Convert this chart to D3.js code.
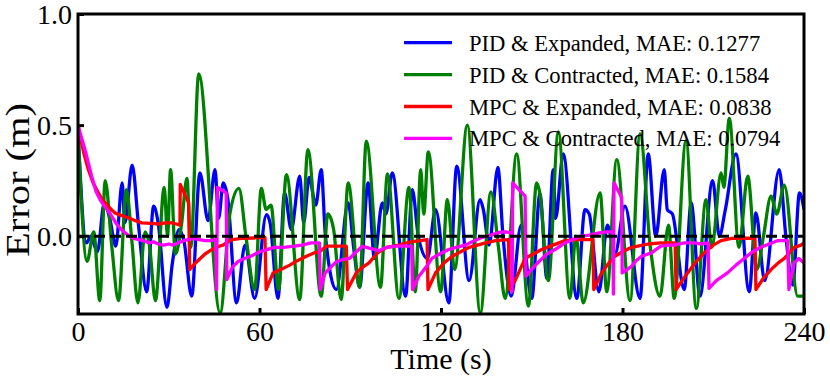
<!DOCTYPE html>
<html><head><meta charset="utf-8">
<script src="https://cdn.jsdelivr.net/npm/d3@7"></script>
<style>html,body{margin:0;padding:0;background:#fff;} svg{display:block;}</style>
</head><body><svg id="c" width="830" height="383"></svg>
<script>
// ---- data ----
const xTicks = [0, 60, 120, 180, 240];
const yTicks = [0.0, 0.5, 1.0];
const seriesNames = [
  "PID & Expanded, MAE: 0.1277",
  "PID & Contracted, MAE: 0.1584",
  "MPC & Expanded, MAE: 0.0838",
  "MPC & Contracted, MAE: 0.0794"
];
const seriesColors = ["#0000ff", "#008000", "#ff0000", "#ff00ff"];

// [time (s), error (m)]
const pidExpanded = [
[0,0.47],[2.8,-0.03],[4.2,0.0],[6.4,-0.07],[8.7,0.15],[10.5,0.08],[12.5,-0.045],[14.6,0.24],[15.5,0.06],[17.9,0.32],[20,0.05],
[22.7,-0.25],[25,0.135],[26.5,0.06],[29.4,-0.32],[31.2,-0.12],[33.4,0.03],[35,-0.02],[37.6,-0.27],[40.3,0.285],[43,0.07],
[45.3,0.3],[46.5,0.08],[48,0.24],[49.5,0.17],[52.4,-0.3],[55.2,-0.04],[58.4,-0.28],[62.3,0.097],[63.5,0.06],[66.1,-0.28],
[68.3,0.195],[70.5,0.03],[73.3,0.27],[74.6,0.06],[76.4,0.265],[78.6,0.14],[80.4,0.3],[81.8,0.0],[85.4,-0.24],[89.3,0.15],
[91.2,-0.06],[93.1,-0.23],[95.9,0.24],[98,-0.1],[100.6,0.15],[101.8,0.1],[103.9,0.285],[108.3,-0.27],[110.5,0.21],[112.5,0.0],
[115.5,-0.1],[118.2,0.12],[122.6,-0.3],[125.2,0.315],[129.3,-0.2],[132.9,0.165],[134,0.12],[135.9,-0.04],[138.8,0.31],[140.5,0.0],
[143.2,-0.27],[146.5,0.05],[150,-0.28],[152.7,0.19],[155,-0.19],[157.1,0.3],[157.9,0.08],[160.4,0.37],[164.9,-0.28],[167.6,0.12],
[169,0.1],[172.2,-0.25],[175,0.05],[177.5,-0.08],[180.8,0.135],[185.8,-0.28],[188.5,0.37],[191,0.0],[193.8,0.3],[194.8,0.12],
[196.5,0.1],[200.4,-0.24],[202.7,0.15],[205.6,-0.27],[209.8,0.25],[212,0.0],[214,0.12],[217.5,0.37],[221.9,-0.25],[224.1,0.105],
[227,-0.2],[231.8,0.3],[234,0.0],[236.3,-0.22],[238.5,0.195],[240,0.12]
];
const pidContracted = [
[0,0.47],[3,-0.113],[5.2,0.02],[7.2,-0.29],[9,0.25],[11.2,-0.05],[13.4,-0.29],[16,0.21],[17.8,-0.02],[19.8,-0.3],[22.2,0.02],
[23.6,-0.04],[25.6,-0.29],[28.5,0.22],[29.6,0.0],[30.6,0.3],[32.2,-0.08],[34.2,0.05],[36,0.26],[37.3,-0.05],[39.9,0.73],
[47,-0.345],[50.2,0.1],[53.2,0.215],[55.5,0.0],[58.4,-0.24],[60.6,0.215],[62.2,0.12],[63.8,0.14],[66.3,-0.24],[68.9,0.277],
[73.3,-0.285],[76,0.39],[80.4,-0.27],[82.6,0.1],[84.5,0.03],[87,-0.285],[89.3,0.24],[93.1,-0.23],[95.3,0.428],[100,-0.23],
[102.3,0.28],[106.1,-0.28],[109.4,0.22],[111.5,-0.25],[113.3,0.3],[114.3,0.1],[115.8,0.38],[119.9,-0.25],[122.1,0.165],
[124.5,-0.15],[128.7,0.5],[133,-0.345],[136.5,0.2],[139,-0.05],[141.2,-0.28],[145,0.37],[148.9,-0.315],[151.6,0.24],[152.6,0.2],
[155.5,-0.2],[158.8,0.47],[162.6,-0.28],[164.6,0.0],[167,-0.3],[172.6,0.195],[174.8,-0.25],[178.1,0.345],[182.5,-0.29],
[185.8,0.46],[189.2,-0.05],[192.4,-0.27],[195.2,0.05],[197.1,-0.28],[201,0.43],[204.4,-0.325],[207.6,0.165],[209.5,-0.05],
[212.6,0.285],[213.5,0.22],[215.3,0.53],[218.5,-0.05],[221.4,0.27],[224.4,-0.15],[226.6,0.0],[229.1,0.18],[231,0.1],
[233.5,0.23],[237.9,-0.27],[240,-0.27]
];
const mpcExpanded = [
[0,0.5],[0.7,0.45],[2,0.37],[3.4,0.3],[5,0.24],[6.7,0.196],[8,0.165],[9.5,0.143],[11,0.12],[12.2,0.105],[14,0.095],[16.6,0.083],
[19,0.07],[21,0.06],[24,0.058],[26.6,0.055],[29,0.06],[31,0.06],[32.5,0.055],[33.7,0.05],[33.8,0.233],[36.6,0.15],[36.9,-0.15],
[38.5,-0.125],[40.4,-0.1],[42,-0.08],[43.7,-0.065],[45.5,-0.05],[47.9,-0.04],[49.5,-0.025],[51,-0.015],[54,-0.01],[58,-0.008],
[61.8,-0.005],[62.2,-0.24],[64.5,-0.165],[67,-0.15],[70,-0.13],[72.5,-0.11],[75.5,-0.09],[78,-0.075],[79.9,-0.07],[82.1,-0.045],
[85.4,-0.045],[88.7,-0.045],[89.1,-0.24],[92,-0.165],[94,-0.14],[96.2,-0.12],[99,-0.075],[102,-0.05],[106,-0.04],[110,-0.025],
[115.4,-0.015],[115.7,-0.24],[118.2,-0.165],[121,-0.12],[123.7,-0.09],[126.5,-0.07],[129.3,-0.05],[132,-0.04],[134.8,-0.03],
[138,-0.02],[142.3,-0.015],[142.6,-0.24],[144.5,-0.2],[147.8,-0.1],[150.5,-0.08],[153.3,-0.06],[157,-0.04],[161,-0.02],
[165,-0.015],[170.2,-0.015],[170.5,-0.24],[173.1,-0.165],[175.5,-0.12],[177.5,-0.09],[180,-0.07],[183,-0.05],[188.5,-0.035],
[192.7,-0.03],[197.4,-0.03],[197.7,-0.24],[201.5,-0.165],[204,-0.12],[207,-0.075],[210,-0.04],[212.6,-0.02],[216,-0.01],
[219.2,-0.008],[223.8,-0.01],[224.1,-0.24],[226.5,-0.19],[229.1,-0.15],[231.5,-0.12],[233.5,-0.1],[236.8,-0.05],[239,-0.04],[240,-0.03]
];
const mpcContracted = [
[0,0.5],[1,0.45],[2.5,0.38],[4.5,0.27],[6,0.2],[7.5,0.16],[9,0.13],[10.7,0.1],[12.5,0.06],[14,0.035],[15.6,0.015],[17,0.0],
[18.5,-0.01],[20,-0.015],[21.7,-0.02],[23.5,-0.03],[25,-0.025],[26.5,-0.035],[28.3,-0.04],[30,-0.035],[31.5,-0.04],[33,-0.03],
[34.9,-0.02],[36.5,-0.015],[38.2,-0.01],[40,-0.015],[42,-0.02],[43.7,-0.02],[45.5,-0.015],[45.8,-0.24],[46.1,0.22],[49,0.195],
[49.2,-0.195],[51,-0.14],[52.8,-0.115],[55,-0.1],[57.1,-0.09],[60,-0.07],[62.5,-0.06],[64.9,-0.05],[68,-0.05],[71.5,-0.045],
[74,-0.04],[77,-0.03],[79.8,-0.03],[80.1,-0.24],[81.7,-0.165],[83.5,-0.14],[85.4,-0.115],[87.5,-0.105],[89.8,-0.1],[92,-0.07],
[94,-0.045],[96.5,-0.055],[99.5,-0.065],[102,-0.05],[105,-0.045],[108,-0.045],[110.3,-0.045],[110.6,-0.24],[112.7,-0.18],
[115,-0.14],[117,-0.1],[119.5,-0.08],[122.5,-0.06],[125,-0.05],[128,-0.04],[131,-0.02],[133.6,-0.005],[136.5,0.005],[139.1,0.017],
[141.5,0.02],[143.3,0.015],[143.5,-0.25],[143.7,0.24],[147.8,0.18],[148.1,-0.18],[150.5,-0.14],[152.7,-0.11],[155,-0.08],
[157.7,-0.06],[161,-0.03],[163.5,-0.015],[166.5,0.0],[169,0.005],[172.3,0.015],[175,0.02],[176.8,0.02],[177,-0.26],[177.2,0.24],
[179.7,0.175],[179.9,-0.165],[181.5,-0.15],[183,-0.135],[184.5,-0.11],[186.3,-0.09],[189.6,-0.075],[191,-0.06],[192.7,-0.045],
[195,-0.04],[197,-0.04],[200.4,-0.03],[203.7,-0.03],[206,-0.035],[208.3,-0.03],[208.6,-0.235],[211,-0.2],[214.7,-0.165],
[217.5,-0.13],[220.2,-0.1],[223,-0.07],[225.7,-0.05],[228.5,-0.035],[231.2,-0.02],[234.6,-0.02],[235,-0.24],[236.7,-0.12],
[238.3,-0.1],[240,-0.12]
];

// ---- layout ----
const svg = d3.select("#c");
const L = 78, R = 804, T = 14, B = 314;
const font = "'Liberation Serif','Times New Roman',serif";
const x = d3.scaleLinear().domain([0, 240]).range([L, R]);
const y = d3.scaleLinear().domain([-0.35, 1.0]).range([B, T]);

svg.append("defs").append("clipPath").attr("id", "clip")
  .append("rect").attr("x", L).attr("y", T).attr("width", R - L).attr("height", B - T);

const plot = svg.append("g").attr("clip-path", "url(#clip)");
const smooth = d3.line().x(d => x(d[0])).y(d => y(d[1])).curve(d3.curveMonotoneX);
const straight = d3.line().x(d => x(d[0])).y(d => y(d[1]));

const data = [pidExpanded, pidContracted, mpcExpanded, mpcContracted];
data.forEach((s, i) => {
  plot.append("path").attr("d", (i < 2 ? smooth : straight)(s))
    .attr("fill", "none").attr("stroke", seriesColors[i]).attr("stroke-width", 3.3)
    .attr("stroke-linejoin", "round");
});
// zero reference
plot.append("path").attr("d", straight([[0, 0], [240, 0]]))
  .attr("stroke", "#000").attr("stroke-width", 3).attr("stroke-dasharray", "11,5").attr("fill", "none");

// axes
const yAxis = d3.axisLeft(y).tickValues(yTicks).tickFormat(d3.format(".1f"))
  .tickSizeInner(-6).tickSizeOuter(0).tickPadding(6);
const xAxis = d3.axisBottom(x).tickValues(xTicks).tickFormat(d3.format("d"))
  .tickSizeInner(-6).tickSizeOuter(0).tickPadding(7);
const gy = svg.append("g").attr("transform", `translate(${L},0)`).call(yAxis);
const gx = svg.append("g").attr("transform", `translate(0,${B})`).call(xAxis);
[gx, gy].forEach(g => {
  g.select(".domain").remove();
  g.selectAll(".tick line").attr("stroke", "#000").attr("stroke-width", 3);
  g.selectAll(".tick text").attr("fill", "#000").style("font-family", font).style("font-size", "28px");
});
gy.selectAll(".tick text").attr("dy", "0.34em");

// frame
svg.append("rect").attr("x", L).attr("y", T).attr("width", R - L).attr("height", B - T)
  .attr("fill", "none").attr("stroke", "#000").attr("stroke-width", 3);

// axis labels
svg.append("text").attr("x", (L + R) / 2).attr("y", 369).attr("text-anchor", "middle")
  .style("font-family", font).style("font-size", "30px").text("Time (s)");
svg.append("text").attr("transform", `translate(29,180) rotate(-90)`).attr("text-anchor", "middle")
  .attr("textLength", 154).attr("lengthAdjust", "spacingAndGlyphs")
  .style("font-family", font).style("font-size", "34px").text("Error (m)");

// legend
const lg = svg.append("g");
seriesNames.forEach((n, i) => {
  const cy = 42.7 + i * 31.9;
  lg.append("line").attr("x1", 404).attr("x2", 452).attr("y1", cy).attr("y2", cy)
    .attr("stroke", seriesColors[i]).attr("stroke-width", 3.3);
  lg.append("text").attr("x", 469).attr("y", cy + 8).style("font-family", font).style("font-size", "22.6px")
    .attr("fill", "#000").text(n);
});
</script></body></html>
